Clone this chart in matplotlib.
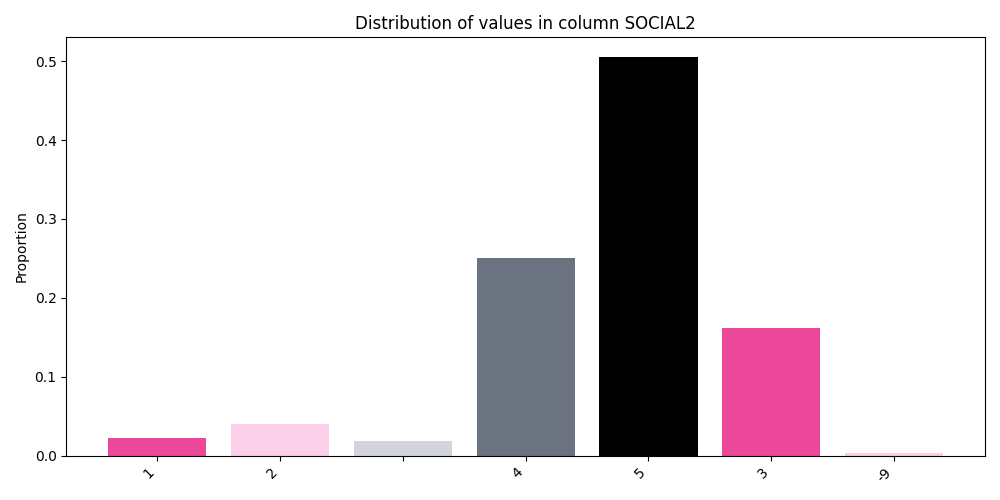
import matplotlib.pyplot as plt

categories = ['1', '2', '', '4', '5', '3', '-9']
proportions = [0.023, 0.040, 0.018, 0.250, 0.505, 0.162, 0.003]
colors = ['#EC4899', '#FBCFE8', '#D1D5DB', '#6B7280', '#000000', '#EC4899', '#FBCFE8']

fig, ax = plt.subplots(figsize=(10, 5), dpi=100)
ax.bar(range(len(categories)), proportions, color=colors)
ax.set_xticks(range(len(categories)))
ax.set_xticklabels(categories, rotation=45, ha='right')
ax.set_ylabel('Proportion')
ax.set_title('Distribution of values in column SOCIAL2')
fig.tight_layout()
fig.savefig('out.png')
